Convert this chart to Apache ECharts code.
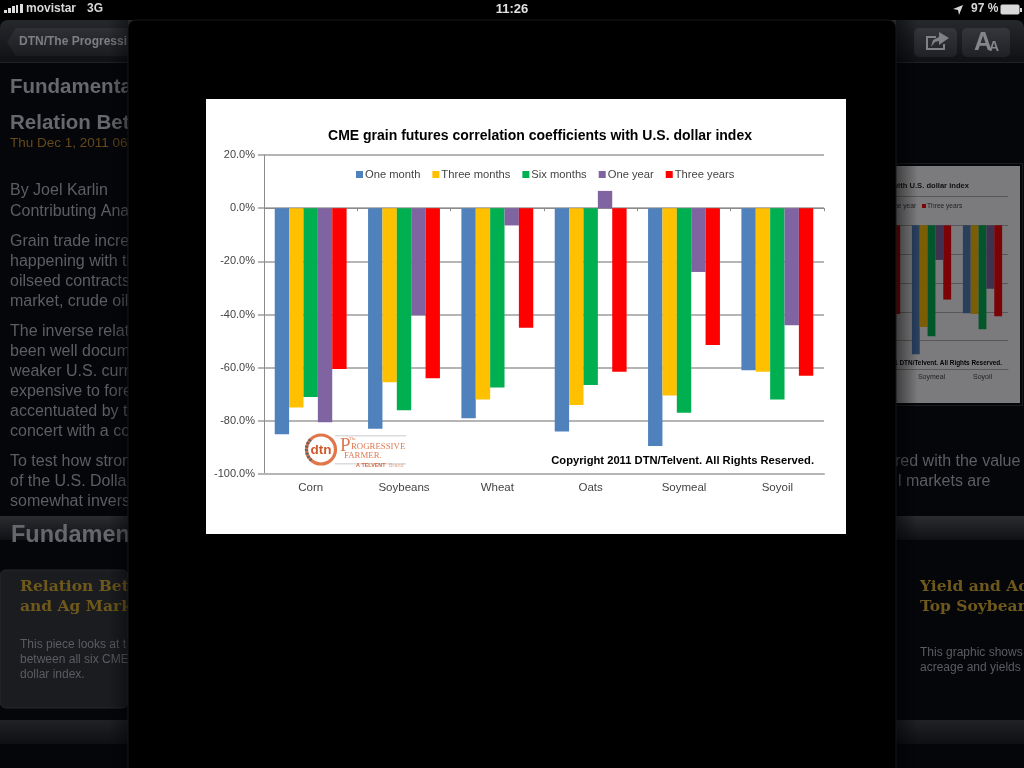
<!DOCTYPE html>
<html>
<head>
<meta charset="utf-8">
<style>
  html, body { margin: 0; padding: 0; background: #000; }
  #chart { width: 1024px; height: 768px; }
</style>
<script src="https://cdn.jsdelivr.net/npm/echarts@6/dist/echarts.min.js"></script>
</head>
<body>
<div id="chart"></div>
<script>
const categories = ['Corn', 'Soybeans', 'Wheat', 'Oats', 'Soymeal', 'Soyoil']
const seriesNames = ['One month', 'Three months', 'Six months', 'One year', 'Three years']
const seriesColors = ['#4f81bd', '#ffc000', '#00b050', '#8064a2', '#ff0000']
const oneMonth = [-85, -83, -79, -84, -89.5, -61]
const threeMonths = [-75, -65.5, -72, -74, -70.5, -61.5]
const sixMonths = [-71, -76, -67.5, -66.5, -77, -72]
const oneYear = [-80.5, -40.3, -6.5, 6.5, -24, -44]
const threeYears = [-60.5, -64, -45, -61.5, -51.5, -63]
const allValues = [oneMonth, threeMonths, sixMonths, oneYear, threeYears]

const chartTitle = 'CME grain futures correlation coefficients with U.S. dollar index'
const copyright = 'Copyright 2011 DTN/Telvent. All Rights Reserved.'

// the dimmed article behind the popup: [x, y, text]
const articleHeads = [[10, 87, 'Fundamenta'], [10, 123, 'Relation Bet']]
const articleLines = [
  [10, 191, 'By Joel Karlin'], [10, 212, 'Contributing Ana'],
  [10, 242, 'Grain trade incre'], [10, 262, 'happening with th'],
  [10, 282, 'oilseed contracts'], [10, 302, 'market, crude oil'],
  [10, 332, 'The inverse relat'], [10, 352, 'been well docum'],
  [10, 372, 'weaker U.S. curr'], [10, 392, 'expensive to fore'],
  [10, 412, 'accentuated by t'], [10, 432, 'concert with a co'],
  [10, 462, 'To test how stron'], [10, 482, 'of the U.S. Dolla'],
  [10, 502, 'somewhat invers'],
  [895, 462, 'red with the value'], [898, 482, 'l markets are']
]
const cardHeads = [
  [20, 587, 'Relation Bet'], [20, 607, 'and Ag Mark'],
  [920, 587, 'Yield and Ac'], [920, 607, 'Top Soybean']
]
const cardLines = [
  [20, 645, 'This piece looks at t'], [20, 660, 'between all six CME'], [20, 675, 'dollar index.'],
  [920, 653, 'This graphic shows'], [920, 668, 'acreage and yields']
]

const SANS = 'Liberation Sans, Arial, sans-serif'
const SERIF = 'Liberation Serif, Times New Roman, serif'
const WIDE_SERIF = 'DejaVu Serif, Georgia, serif'

let txt = (x, y, text, font, fill, z, align = 'left') => ({
  type: 'text', x, y, z, silent: true,
  style: { text, font, fill, textAlign: align, verticalAlign: 'middle', textVerticalAlign: 'middle' }
})
let box = (x, y, width, height, fill, z, r = 0, stroke = null) => ({
  type: 'rect', z, silent: true,
  shape: { x, y, width, height, r },
  style: { fill, stroke, lineWidth: stroke ? 1 : 0 }
})
let vGrad = (a, b) => ({ type: 'linear', x: 0, y: 0, x2: 0, y2: 1, colorStops: [{ offset: 0, color: a }, { offset: 1, color: b }] })
let hGrad = (a, b) => ({ type: 'linear', x: 0, y: 0, x2: 1, y2: 0, colorStops: [{ offset: 0, color: a }, { offset: 1, color: b }] })

let graphics = [
  // page behind the popup
  box(0, 0, 1024, 768, '#05060a', 0),
  box(0, 20, 1024, 43, vGrad('#26282c', '#0e1014'), 0, [8, 8, 0, 0]),
  box(0, 62, 1024, 1, '#202226', 0),
  box(0, 0, 1024, 20, '#000', 0),
  box(0, 516, 1024, 24, vGrad('#2a2c30', '#0f1115'), 0),
  box(0, 720, 1024, 24, vGrad('#1f2125', '#0e1014'), 0),
  box(0, 570, 128, 138, '#1a1c20', 0, 6, '#27292d'),

  // nav bar
  { type: 'polygon', z: 0, silent: true, shape: { points: [[7, 42], [16, 28], [130, 28], [130, 56], [16, 56]] }, style: { fill: vGrad('#2e3035', '#1a1c20') } },
  txt(19, 42, 'DTN/The Progressi', 'bold 12px ' + SANS, '#7c7e83', 0),
  box(914, 28, 43, 29, vGrad('#34363b', '#1f2125'), 0, 5),
  box(962, 28, 48, 29, vGrad('#34363b', '#1f2125'), 0, 5),
  { type: 'polyline', z: 0, silent: true, shape: { points: [[936, 37], [927, 37], [927, 49], [944, 49], [944, 44]] }, style: { fill: null, stroke: '#7f8186', lineWidth: 2 } },
  { type: 'polygon', z: 0, silent: true, shape: { points: [[931, 47], [933, 40], [939, 37], [939, 32], [949, 38], [939, 45], [939, 41], [935, 42]] }, style: { fill: '#7f8186' } },
  txt(983, 43, 'A', 'bold 25px ' + SANS, '#84868b', 0, 'center'),
  txt(994, 47, 'A', 'bold 14px ' + SANS, '#84868b', 0, 'center'),

  // status bar
  box(4, 10, 3, 3, '#ddd', 1), box(8, 8, 3, 5, '#ddd', 1), box(12, 6, 3, 7, '#ddd', 1), box(16, 5, 2, 8, '#ddd', 1), box(20, 4, 3, 9, '#ddd', 1),
  txt(26, 9, 'movistar', 'bold 12px ' + SANS, '#d8d8d8', 1),
  txt(87, 9, '3G', 'bold 12px ' + SANS, '#d8d8d8', 1),
  txt(512, 9, '11:26', 'bold 13px ' + SANS, '#e0e0e0', 1, 'center'),
  { type: 'polygon', z: 1, silent: true, shape: { points: [[953, 9], [963, 5], [959, 15], [958, 10]] }, style: { fill: '#d8d8d8' } },
  txt(971, 9, '97 %', 'bold 12px ' + SANS, '#d8d8d8', 1),
  box(1001, 5, 18, 9, '#d8d8d8', 1, 1, '#d8d8d8'),
  box(1020, 8, 2, 4, '#d8d8d8', 1),

  // thumbnail behind the popup, z 1-3 under the dimming layer at z 4
  box(896, 163, 127, 243, '#1a1b1f', 0),
  box(896, 164, 126, 241, '#05060a', 0),
  box(880, 166, 140, 237, '#fff', 1),
  txt(969, 186, chartTitle, 'bold 7.6px ' + SANS, '#222', 3, 'right'),
  txt(889, 206, 'One year', '6.6px ' + SANS, '#444', 3),
  box(922, 204, 4, 4, '#ff0000', 3),
  txt(927, 206, 'Three years', '6.6px ' + SANS, '#444', 3),
  txt(1002, 363, copyright, 'bold 6.4px ' + SANS, '#000', 3, 'right'),
  box(880, 166, 140, 237, 'rgba(5,6,10,0.53)', 4),

  // text on the page
  ...articleHeads.map(a => txt(a[0], a[1], a[2], 'bold 20.5px ' + SANS, '#66686d', 1)),
  txt(10, 143, 'Thu Dec 1, 2011 06', '13.5px ' + SANS, '#65491a', 1),
  ...articleLines.map(a => txt(a[0], a[1], a[2], '16px ' + SANS, '#5c5e63', 1)),
  txt(11, 536, 'Fundamen', 'bold 23.5px ' + SANS, '#66686d', 1),
  ...cardHeads.map(a => txt(a[0], a[1], a[2], 'bold 15.5px ' + WIDE_SERIF, '#6e581b', 1)),
  ...cardLines.map(a => txt(a[0], a[1], a[2], '12px ' + SANS, '#5a5c61', 1)),

  // shadow the popup throws on the page
  box(896, 20, 22, 748, hGrad('rgba(0,0,0,0.5)', 'rgba(0,0,0,0)'), 4),
  box(108, 20, 20, 748, hGrad('rgba(0,0,0,0)', 'rgba(0,0,0,0.4)'), 4),

  // popup and the white picture
  box(128, 20, 768, 760, '#000', 5, 8, '#17181b'),
  box(206, 99, 640, 435, '#fff', 5),
  txt(540, 136, chartTitle, 'bold 14px ' + SANS, '#000', 9, 'center'),
  txt(814, 461, copyright, 'bold 11.2px ' + SANS, '#000', 9, 'right'),

  // logo
  { type: 'circle', z: 9, silent: true, shape: { cx: 321, cy: 449.5, r: 14.5 }, style: { fill: '#fff', stroke: '#e0764a', lineWidth: 3.2 } },
  { type: 'arc', z: 9, silent: true, shape: { cx: 321, cy: 449.5, r: 14.5, startAngle: 2.3, endAngle: 4.0 }, style: { fill: null, stroke: '#666', lineWidth: 3.2, lineDash: [2, 1.5] } },
  txt(321, 450, 'dtn', 'bold 13.5px ' + SANS, '#d2592c', 9, 'center'),
  box(335, 435, 71, 1.5, '#dcdcdc', 9),
  box(335, 463, 71, 1.5, '#dcdcdc', 9),
  txt(340, 446, 'P', '19px ' + SERIF, '#de7a52', 9),
  txt(349, 439, 'The', '4.5px ' + SERIF, '#de7a52', 9),
  txt(351, 447, 'ROGRESSIVE', '8.8px ' + SERIF, '#de7a52', 9),
  txt(344, 456, 'FARMER.', '8.8px ' + SERIF, '#de7a52', 9),
  txt(356, 466, 'A TELVENT', 'bold 5.4px ' + SANS, '#d8693e', 9),
  txt(389, 466, 'Brand', '5.4px ' + SANS, '#dfa890', 9)
]

// one bar series per period; the same values draw the thumbnail behind the popup
let bars = (xAxisIndex, yAxisIndex, z, gap) => allValues.map((values, i) => ({
  name: seriesNames[i],
  type: 'bar',
  xAxisIndex,
  yAxisIndex,
  z,
  data: values,
  barGap: 0,
  barCategoryGap: gap,
  itemStyle: { color: seriesColors[i] },
  silent: true,
  animation: false
}))

let chart = echarts.init(document.getElementById('chart'), null, { renderer: 'canvas' })
chart.setOption({
  animation: false,
  backgroundColor: '#000',
  graphic: { elements: graphics },
  legend: {
    z: 9,
    left: 351,
    top: 164,
    icon: 'rect',
    itemWidth: 7,
    itemHeight: 7,
    itemGap: 12,
    selectedMode: false,
    data: seriesNames,
    textStyle: { fontFamily: SANS, fontSize: 11.2, color: '#444', padding: [0, 0, 0, -3] }
  },
  grid: [
    { left: 264, top: 155, width: 560, height: 319 },
    { left: 702, top: 196.5, width: 306, height: 173, z: 2 }
  ],
  xAxis: [
    { // labels at the bottom
      gridIndex: 0, type: 'category', data: categories, position: 'bottom', z: 7,
      axisLine: { onZero: false, lineStyle: { color: '#b5b5b5', width: 2 } },
      axisTick: { show: false },
      axisLabel: { margin: 8, fontFamily: SANS, fontSize: 11.5, color: '#444' }
    },
    { // ticks along zero
      gridIndex: 0, type: 'category', data: categories, position: 'top', z: 7,
      axisLine: { onZero: true, lineStyle: { color: '#8c8c8c', width: 1 } },
      axisTick: { show: true, inside: true, length: 3, alignWithLabel: false, lineStyle: { color: '#8c8c8c' } },
      axisLabel: { show: false }
    },
    { // thumbnail
      gridIndex: 1, type: 'category', data: categories, position: 'bottom', z: 2,
      axisLine: { onZero: false, lineStyle: { color: '#b5b5b5', width: 1 } },
      axisTick: { show: false },
      axisLabel: { margin: 4, fontFamily: SANS, fontSize: 7, color: '#444' }
    }
  ],
  yAxis: [
    {
      gridIndex: 0, type: 'value', min: -100, max: 20, interval: 20, z: 7,
      axisLine: { show: true, lineStyle: { color: '#8c8c8c' } },
      axisTick: { show: true, length: 6, lineStyle: { color: '#b5b5b5', width: 2 } },
      axisLabel: { margin: 9, fontFamily: SANS, fontSize: 11, color: '#444', formatter: v => v.toFixed(1) + '%' },
      splitLine: { lineStyle: { color: '#b5b5b5', width: 2 } }
    },
    {
      gridIndex: 1, type: 'value', min: -100, max: 20, interval: 20, z: 2,
      axisLine: { show: false },
      axisTick: { show: false },
      axisLabel: { show: false },
      splitLine: { lineStyle: { color: '#b5b5b5', width: 1 } }
    }
  ],
  series: [...bars(0, 0, 8, '23%'), ...bars(2, 1, 2, '23%')]
})
</script>
</body>
</html>
